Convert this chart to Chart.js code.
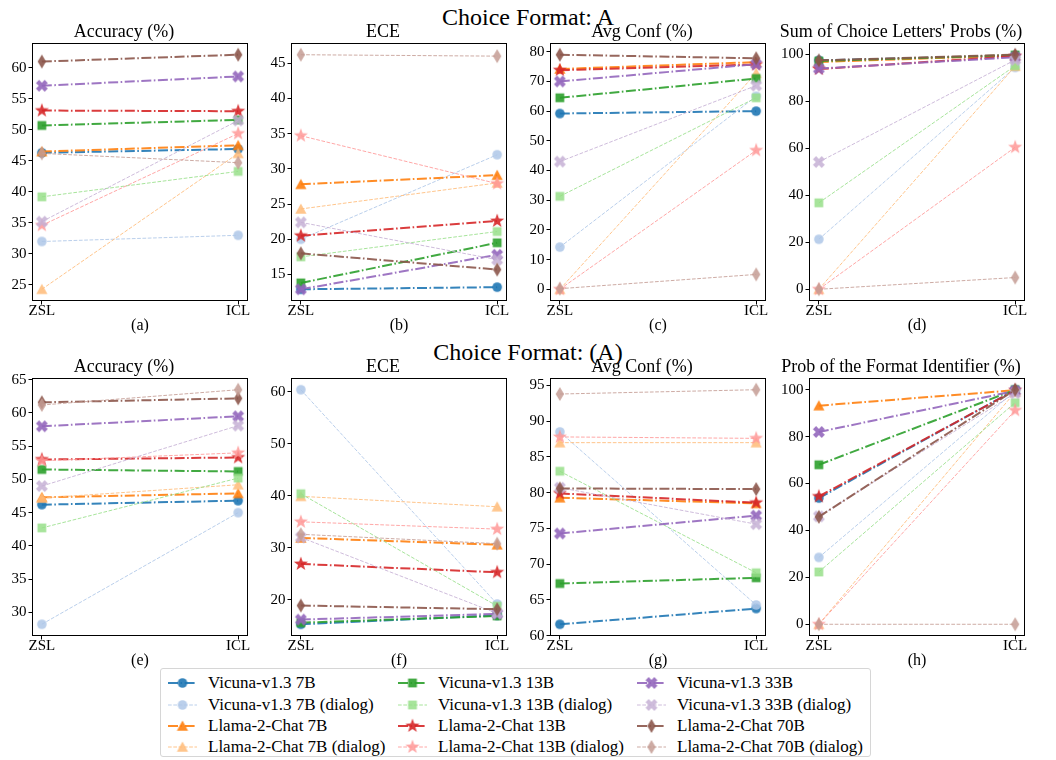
<!DOCTYPE html>
<html>
<head>
<meta charset="utf-8">
<script src="https://cdn.jsdelivr.net/npm/chart.js@4.4.1/dist/chart.umd.min.js"></script>
<style>
  body { margin: 0; background: #fff; width: 1056px; height: 760px; position: relative; overflow: hidden; font-family: "Liberation Serif", serif; color: #000; }
  .sup { position: absolute; left: 0; width: 1056px; text-align: center; font-size: 24px; line-height: 26px; }
  canvas.panel { position: absolute; }
  #legend { position: absolute; left: 160px; top: 668px; width: 709px; height: 87px; border: 1px solid #d6d6d6; border-radius: 3px; }
  .item { position: absolute; height: 20px; font-size: 17px; line-height: 20px; white-space: nowrap; }
  .item canvas { position: absolute; left: 0; top: 0; }
  .item span { position: absolute; left: 40px; top: 0; }
</style>
</head>
<body>
<div class="sup" style="top:4px">Choice Format: A</div>
<div class="sup" style="top:339px">Choice Format: (A)</div>
<div id="legend"></div>
<script>
var FONT = '"Liberation Serif", serif';

var stages = ['ZSL', 'ICL'];
var models = ['Vicuna-v1.3 7B', 'Vicuna-v1.3 7B (dialog)', 'Llama-2-Chat 7B', 'Llama-2-Chat 7B (dialog)',
              'Vicuna-v1.3 13B', 'Vicuna-v1.3 13B (dialog)', 'Llama-2-Chat 13B', 'Llama-2-Chat 13B (dialog)',
              'Vicuna-v1.3 33B', 'Vicuna-v1.3 33B (dialog)', 'Llama-2-Chat 70B', 'Llama-2-Chat 70B (dialog)'];

// choice format: A   (one [ZSL, ICL] pair per model, same order as models)
var accA  = [[46.3, 46.9], [32.0, 33.0], [46.5, 47.5], [24.3, 46.2], [50.7, 51.6], [39.2, 43.3],
             [53.1, 53.0], [34.6, 49.4], [57.1, 58.6], [35.2, 51.5], [61.0, 62.1], [46.2, 44.7]];
var eceA  = [[12.9, 13.2], [20.0, 32.0], [27.8, 29.1], [24.3, 28.0], [13.8, 19.5], [17.5, 21.1],
             [20.5, 22.6], [34.7, 27.9], [12.9, 17.8], [22.4, 17.1], [18.0, 15.7], [46.2, 46.0]];
var confA = [[59.2, 60.0], [14.2, 65.0], [74.2, 76.5], [0.0, 72.8], [64.5, 71.0], [31.3, 64.5],
             [73.8, 75.7], [0.0, 46.8], [70.0, 75.8], [43.0, 68.6], [79.0, 77.8], [0.2, 5.0]];
var sumA  = [[97.5, 99.5], [21.3, 94.5], [96.8, 99.6], [0.0, 95.0], [97.2, 99.8], [36.8, 95.2],
             [93.8, 99.3], [0.0, 60.5], [94.0, 98.8], [54.2, 97.7], [97.5, 99.9], [0.0, 5.0]];

// choice format: (A)
var accB  = [[46.2, 46.8], [28.2, 45.0], [47.3, 47.9], [47.2, 49.2], [51.5, 51.2], [42.7, 50.2],
             [53.0, 53.3], [52.8, 54.0], [58.0, 59.5], [49.0, 58.1], [61.6, 62.2], [61.2, 63.5]];
var eceB  = [[15.3, 17.0], [60.4, 19.2], [31.9, 30.6], [39.9, 37.9], [15.6, 16.9], [40.4, 18.8],
             [26.9, 25.3], [35.0, 33.6], [16.2, 17.3], [32.0, 17.4], [18.9, 18.2], [32.6, 30.8]];
var confB = [[61.6, 63.8], [88.5, 64.3], [79.3, 78.5], [87.0, 87.0], [67.3, 68.1], [83.0, 68.8],
             [79.9, 78.6], [87.8, 87.6], [74.3, 76.8], [80.7, 75.6], [80.6, 80.5], [93.8, 94.4]];
var fmtB  = [[53.8, 100.0], [28.5, 99.5], [93.2, 99.8], [0.0, 99.0], [68.0, 100.0], [22.3, 94.5],
             [54.5, 99.8], [0.0, 91.2], [82.0, 99.5], [46.0, 98.5], [45.8, 100.0], [0.0, 0.0]];

var panelTitles = ['Accuracy (%)', 'ECE', 'Avg Conf (%)', "Sum of Choice Letters' Probs (%)",
                   'Accuracy (%)', 'ECE', 'Avg Conf (%)', 'Prob of the Format Identifier (%)'];
var panelLabels = ['(a)', '(b)', '(c)', '(d)', '(e)', '(f)', '(g)', '(h)'];
var panelData = [accA, eceA, confA, sumA, accB, eceB, confB, fmtB];
var tickSteps = [5, 5, 10, 20, 5, 10, 5, 20];

// tab20 pairs
var darkColors  = ['31,119,180', '255,127,14', '44,160,44', '214,39,40', '148,103,189', '140,86,75'];
var lightColors = ['174,199,232', '255,187,120', '152,223,138', '255,152,150', '197,176,213', '196,156,148'];
var shapes = ['circle', 'triangle', 'square', 'star', 'xfill', 'thindiamond'];

function makeMarker(shape, color) {
    var c = document.createElement('canvas');
    c.width = 20; c.height = 20;
    var g = c.getContext('2d');
    g.fillStyle = color;
    g.translate(10, 10);
    g.beginPath();
    var i, a, r;
    if (shape === 'circle') {
        g.arc(0, 0, 4.8, 0, Math.PI * 2);
    } else if (shape === 'triangle') {
        g.moveTo(0, -5.6); g.lineTo(5.6, 4.8); g.lineTo(-5.6, 4.8);
    } else if (shape === 'square') {
        g.rect(-4.4, -4.4, 8.8, 8.8);
    } else if (shape === 'star') {
        for (i = 0; i < 10; i++) {
            a = -Math.PI / 2 + i * Math.PI / 5;
            r = i % 2 ? 3.0 : 7.4;
            if (i) g.lineTo(r * Math.cos(a), r * Math.sin(a)); else g.moveTo(r * Math.cos(a), r * Math.sin(a));
        }
    } else if (shape === 'xfill') {
        g.rotate(Math.PI / 4);
        var w = 2.2, L = 6.2;
        var pts = [[w, -L], [w, -w], [L, -w], [L, w], [w, w], [w, L], [-w, L], [-w, w], [-L, w], [-L, -w], [-w, -w], [-w, -L]];
        pts.forEach(function(p, k) { if (k) g.lineTo(p[0], p[1]); else g.moveTo(p[0], p[1]); });
    } else {
        g.moveTo(0, -7); g.lineTo(4.2, 0); g.lineTo(0, 7); g.lineTo(-4.2, 0);
    }
    g.closePath();
    g.fill();
    return c;
}

function styleFor(i) {
    var fam = Math.floor(i / 2);
    var dialog = i % 2 === 1;
    var rgb = dialog ? lightColors[fam] : darkColors[fam];
    var alpha = dialog ? 0.85 : 0.9;
    var col = 'rgba(' + rgb + ',' + alpha + ')';
    return {
        color: col,
        marker: makeMarker(shapes[fam], col),
        width: dialog ? 1.0 : 2.0,
        dash: dialog ? [3.7, 1.6] : [10, 2.5, 1.6, 2.5]
    };
}
var styles = models.map(function(m, i) { return styleFor(i); });

var boxPlugin = {
    id: 'box',
    afterDraw: function(chart) {
        var a = chart.chartArea, c = chart.ctx;
        c.save();
        c.strokeStyle = '#000';
        c.lineWidth = 1;
        c.strokeRect(Math.round(a.left) + 0.5, Math.round(a.top) + 0.5,
                     Math.round(a.right - a.left) - 1, Math.round(a.bottom - a.top) - 1);
        c.restore();
    }
};

var boxLefts = [32, 291, 550, 809];
var boxTops = [43, 378];
// right padding equals the y-axis width so the title sits centred over the plot box
var BOX_W = 216, BOX_H = 258, Y_W = 32, X_H = 36, TITLE_H = 25, PAD_R = 32;

panelData.forEach(function(vals, p) {
    var row = Math.floor(p / 4), col = p % 4;
    var canvas = document.createElement('canvas');
    canvas.className = 'panel';
    canvas.width = Y_W + BOX_W + PAD_R;
    canvas.height = TITLE_H + BOX_H + X_H;
    canvas.style.left = (boxLefts[col] - Y_W) + 'px';
    canvas.style.top = (boxTops[row] - TITLE_H) + 'px';
    document.body.appendChild(canvas);

    var all = [];
    vals.forEach(function(pair) { all = all.concat(pair); });
    var lo = Math.min.apply(null, all), hi = Math.max.apply(null, all);
    var m = (hi - lo) * 0.05;
    var step = tickSteps[p];

    var datasets = models.map(function(name, i) {
        var s = styles[i];
        return {
            label: name,
            data: stages.map(function(st, k) { return { x: k, y: vals[i][k] }; }),
            borderColor: s.color,
            backgroundColor: s.color,
            borderWidth: s.width,
            borderDash: s.dash,
            pointStyle: s.marker,
            pointRadius: 6,
            tension: 0,
            order: models.length - i
        };
    });

    new Chart(canvas.getContext('2d'), {
        type: 'line',
        data: { datasets: datasets },
        options: {
            responsive: false,
            animation: false,
            devicePixelRatio: 1,
            layout: { padding: { left: 0, right: PAD_R, top: 0, bottom: 0 } },
            plugins: {
                legend: { display: false },
                tooltip: { enabled: false },
                title: {
                    display: true, text: panelTitles[p], color: '#000',
                    font: { family: FONT, size: 18, weight: 'normal', lineHeight: 1 },
                    padding: { top: 5, bottom: 2 }
                }
            },
            scales: {
                x: {
                    type: 'linear', min: -0.05, max: 1.05,
                    afterBuildTicks: function(ax) { ax.ticks = stages.map(function(s, k) { return { value: k }; }); },
                    afterFit: function(ax) { ax.height = X_H; ax.paddingLeft = 0; ax.paddingRight = 0; },
                    ticks: {
                        callback: function(v) { return stages[v]; },
                        color: '#000', font: { family: FONT, size: 15 }, padding: -2,
                        maxRotation: 0, autoSkip: false
                    },
                    grid: { drawOnChartArea: false, tickLength: 3.5, color: '#000' },
                    border: { display: false },
                    title: {
                        display: true, text: panelLabels[p], color: '#000',
                        font: { family: FONT, size: 16 }, padding: { top: 0, bottom: 2 }
                    }
                },
                y: {
                    min: lo - m, max: hi + m,
                    afterBuildTicks: function(ax) {
                        var t = [];
                        for (var v = Math.ceil(ax.min / step) * step; v <= ax.max + 1e-9; v += step) t.push({ value: v });
                        ax.ticks = t;
                    },
                    afterFit: function(ax) { ax.width = Y_W; ax.paddingTop = 0; ax.paddingBottom = 0; },
                    ticks: { color: '#000', font: { family: FONT, size: 15 }, padding: 2 },
                    grid: { drawOnChartArea: false, tickLength: 3.5, color: '#000' },
                    border: { display: false }
                }
            }
        },
        plugins: [boxPlugin]
    });
});

// legend, 3 columns filled top to bottom
var legend = document.getElementById('legend');
var colLefts = [7, 237, 476];
var rowTops = [4, 26, 47, 68];
models.forEach(function(name, i) {
    var col = Math.floor(i / 4), row = i % 4;
    var s = styles[i];
    var item = document.createElement('div');
    item.className = 'item';
    item.style.left = colLefts[col] + 'px';
    item.style.top = rowTops[row] + 'px';
    var h = document.createElement('canvas');
    h.width = 30; h.height = 20;
    var g = h.getContext('2d');
    g.strokeStyle = s.color;
    g.lineWidth = s.width;
    g.setLineDash(s.dash);
    g.beginPath(); g.moveTo(0, 10); g.lineTo(29, 10); g.stroke();
    g.drawImage(s.marker, 14.5 - 10, 0);
    var t = document.createElement('span');
    t.textContent = name;
    item.appendChild(h);
    item.appendChild(t);
    legend.appendChild(item);
});
</script>
</body>
</html>
